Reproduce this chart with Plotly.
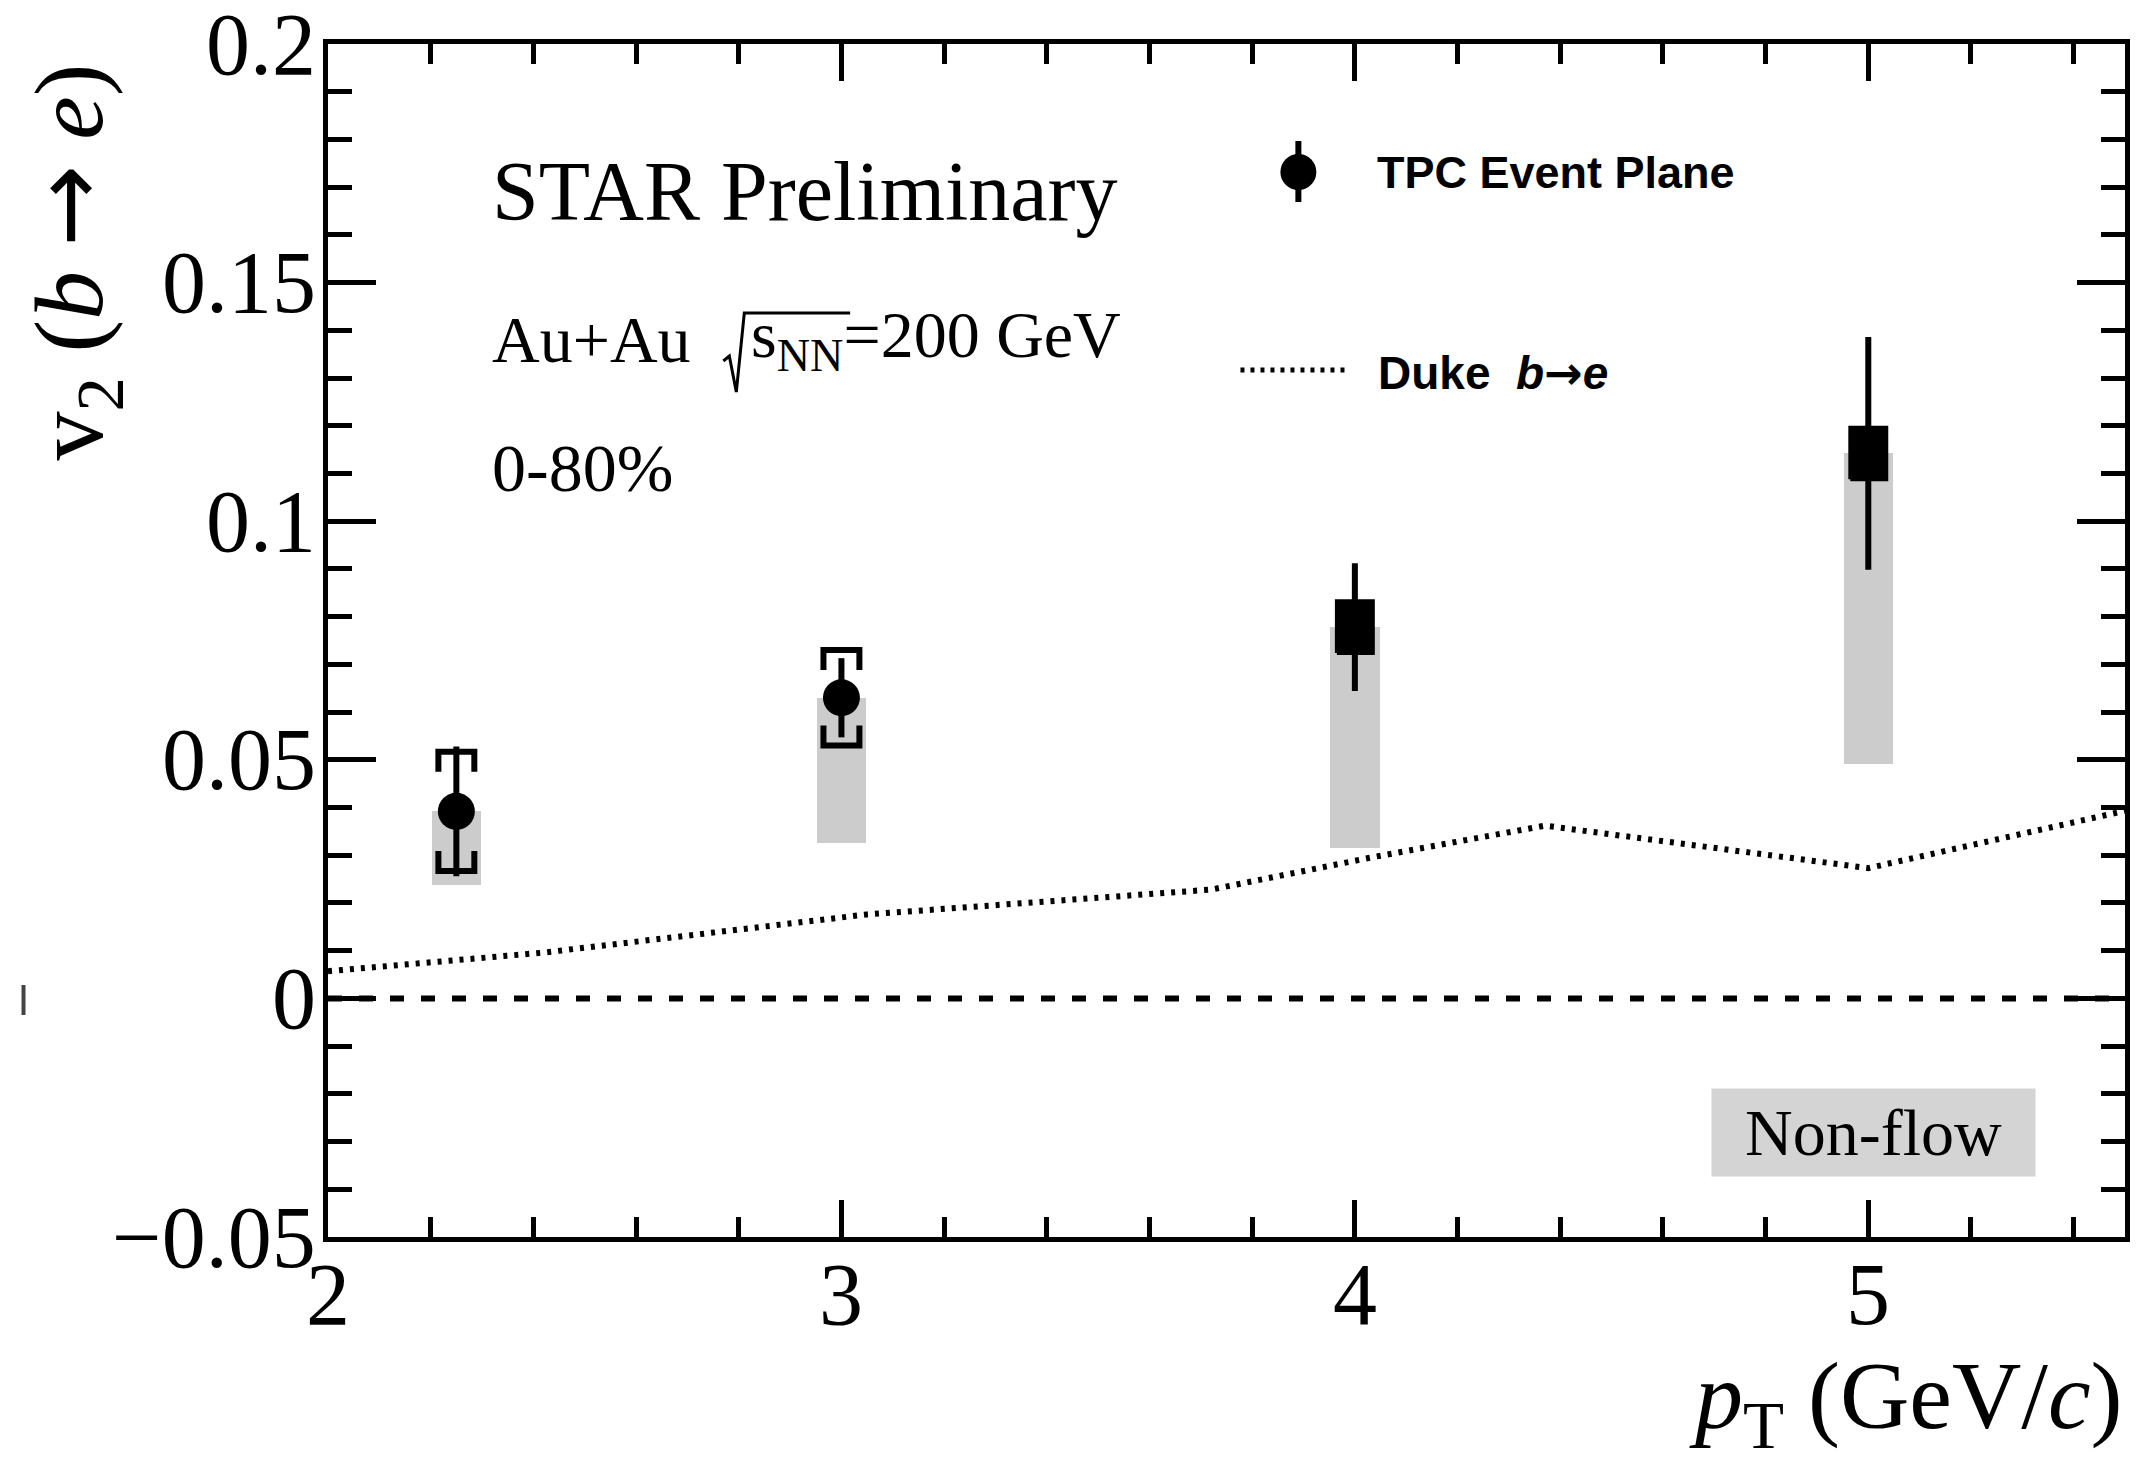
import plotly.graph_objects as go

# --- measured v2 of b->e electrons (TPC event plane), Au+Au 200 GeV, 0-80% ---
pt = [2.25, 3.0, 4.0, 5.0]
v2 = [0.0392, 0.0630, 0.0778, 0.1142]
stat_err = [0.0136, 0.0083, 0.0134, 0.0244]
sys_err = [0.0125, 0.0100, 0.0054, 0.0054]
nonflow = [0.0155, 0.0305, 0.0463, 0.0650]

# --- Duke model curve for b->e ---
duke_pt = [2.0, 2.42, 3.05, 3.72, 4.04, 4.37, 5.0, 5.25, 5.5]
duke_v2 = [0.0057, 0.0096, 0.0176, 0.0228, 0.0297, 0.0362, 0.0273, 0.0333, 0.0393]

# --- axis ticks ---
x_tickvals = [2, 3, 4, 5]
x_ticktext = ["2", "3", "4", "5"]
y_tickvals = [-0.05, 0.0, 0.05, 0.1, 0.15, 0.2]
y_ticktext = ["\u22120.05", "0", "0.05", "0.1", "0.15", "0.2"]

W, H = 2142, 1464
L, R, T, B = 328, 14, 44, 227
PW, PH = W - L - R, H - T - B

SERIF = "Liberation Serif"
SANS = "Liberation Sans"
ARROW = "<span style='font-family:DejaVu Sans'>\u2192</span>"


def px_x(X):
    return (X - L) / PW


def px_y(Y):
    return (H - B - Y) / PH


fig = go.Figure()

# non-flow bands below each point
fig.add_trace(go.Bar(
    x=pt,
    y=nonflow,
    base=[v - n for v, n in zip(v2, nonflow)],
    width=0.096,
    marker=dict(color="#cccccc", line=dict(width=0)),
    showlegend=False,
    hoverinfo="skip",
))

# Duke model
fig.add_trace(go.Scatter(
    x=duke_pt, y=duke_v2, mode="lines",
    line=dict(color="black", width=6, dash="4px,7px"),
    showlegend=False, hoverinfo="skip",
))

# systematic brackets; when the two brackets nearly meet they merge into a block
bw, lg = 0.035, 0.0042
bx, by = [], []
fx, fy = [], []
for x, y, s in zip(pt, v2, sys_err):
    if s < 1.5 * lg:
        fx += [x - bw, x + bw, x + bw, x - bw, x - bw, None]
        fy += [y - s, y - s, y + s, y + s, y - s, None]
        continue
    bx += [x - bw, x - bw, x + bw, x + bw, None]
    by += [y + s - lg, y + s, y + s, y + s - lg, None]
    bx += [x - bw, x - bw, x + bw, x + bw, None]
    by += [y - s + lg, y - s, y - s, y - s + lg, None]
fig.add_trace(go.Scatter(
    x=bx, y=by, mode="lines",
    line=dict(color="black", width=6),
    showlegend=False, hoverinfo="skip",
))
fig.add_trace(go.Scatter(
    x=fx, y=fy, mode="lines", fill="toself", fillcolor="black",
    line=dict(color="black", width=4),
    showlegend=False, hoverinfo="skip",
))

# data points with statistical errors
fig.add_trace(go.Scatter(
    x=pt, y=v2, mode="markers",
    marker=dict(symbol="circle", size=37, color="black", line=dict(width=0)),
    error_y=dict(type="data", array=stat_err, visible=True,
                 color="black", thickness=6, width=0),
    showlegend=False, hoverinfo="skip",
))

fig.update_xaxes(
    range=[2, 5.5], tickmode="array", tickvals=x_tickvals, showticklabels=False,
    ticks="inside", ticklen=37, tickwidth=5, tickcolor="black",
    minor=dict(ticks="inside", dtick=0.2, tick0=2, ticklen=20, tickwidth=5,
               tickcolor="black"),
    showline=True, linewidth=5, linecolor="black", mirror="ticks",
    showgrid=False, zeroline=False,
)
fig.update_yaxes(
    range=[-0.05, 0.2], tickmode="array", tickvals=y_tickvals, showticklabels=False,
    ticks="inside", ticklen=48, tickwidth=5, tickcolor="black",
    minor=dict(ticks="inside", dtick=0.01, tick0=0, ticklen=24, tickwidth=5,
               tickcolor="black"),
    showline=True, linewidth=5, linecolor="black", mirror="ticks",
    showgrid=False, zeroline=False,
)

shapes = [
    # zero reference
    dict(type="line", xref="x", yref="y", x0=2, x1=5.5, y0=0, y1=0,
         line=dict(color="black", width=6, dash="14px,17px"), layer="above"),
    # legend glyph: point with error bar
    dict(type="line", xref="paper", yref="paper",
         x0=px_x(1300), x1=px_x(1300), y0=px_y(141), y1=px_y(202),
         line=dict(color="black", width=6)),
    dict(type="circle", xref="paper", yref="paper",
         x0=px_x(1282), x1=px_x(1318), y0=px_y(190), y1=px_y(154),
         fillcolor="black", line=dict(width=0)),
    # legend glyph: dotted model line
    dict(type="line", xref="paper", yref="paper",
         x0=px_x(1242), x1=px_x(1351), y0=px_y(370), y1=px_y(370),
         line=dict(color="black", width=5, dash="4px,6px")),
    # radical sign over s_NN
    dict(type="path", xref="paper", yref="paper",
         path="M {} {} L {} {} L {} {} L {} {} L {} {}".format(
             px_x(724), px_y(361), px_x(730), px_y(356), px_x(737), px_y(392),
             px_x(745), px_y(313), px_x(851), px_y(313)),
         line=dict(color="black", width=3)),
    # small mark at far left
    dict(type="line", xref="paper", yref="paper",
         x0=px_x(23), x1=px_x(23), y0=px_y(985), y1=px_y(1015),
         line=dict(color="#444444", width=4)),
]

ann = []


def text(s, X, Y, size, family=SERIF, xanchor="left", yanchor="middle", **kw):
    ann.append(dict(text=s, xref="paper", yref="paper", x=px_x(X), y=px_y(Y),
                    xanchor=xanchor, yanchor=yanchor, showarrow=False,
                    font=dict(family=family, size=size, color="black"), **kw))


# tick labels
for v, s in zip(y_tickvals, y_ticktext):
    ann.append(dict(text=s, xref="paper", yref="y", x=px_x(318), y=v,
                    xanchor="right", yanchor="middle", showarrow=False,
                    font=dict(family=SERIF, size=88, color="black")))
for v, s in zip(x_tickvals, x_ticktext):
    ann.append(dict(text=s, xref="x", yref="paper", x=v, y=px_y(1294),
                    xanchor="center", yanchor="middle", showarrow=False,
                    font=dict(family=SERIF, size=88, color="black")))

text("STAR Preliminary", 490, 191, 84)
text("Au+Au", 490, 339, 66)
text("s<sub>NN</sub>=200 GeV", 750, 339, 66)
text("0-80%", 490, 468, 68)
text("<b>TPC Event Plane</b>", 1377, 172, 45, family=SANS)
text("<b>Duke  <i>b</i>" + ARROW + "<i>e</i></b>", 1378, 373, 46, family=SANS)

# axis titles
text("v<sub>2</sub> (<i>b</i> " + ARROW + " <i>e</i>)", 75, 262, 98,
     xanchor="center", textangle=-90)
text("<i>p</i><sub>T</sub>\u00a0(GeV/<i>c</i>)", 2128, 1402, 96, xanchor="right")

# non-flow legend box
ann.append(dict(text="Non-flow", xref="paper", yref="paper",
                x=px_x(1876), y=px_y(1132), xanchor="center", yanchor="middle",
                showarrow=False, width=321, height=85, bgcolor="#d4d4d4",
                font=dict(family=SERIF, size=66, color="black")))

fig.update_layout(
    width=W, height=H,
    margin=dict(l=L, r=R, t=T, b=B, pad=0),
    paper_bgcolor="white", plot_bgcolor="white",
    shapes=shapes, annotations=ann,
    showlegend=False, bargap=0,
)

fig.write_html("out.html")
